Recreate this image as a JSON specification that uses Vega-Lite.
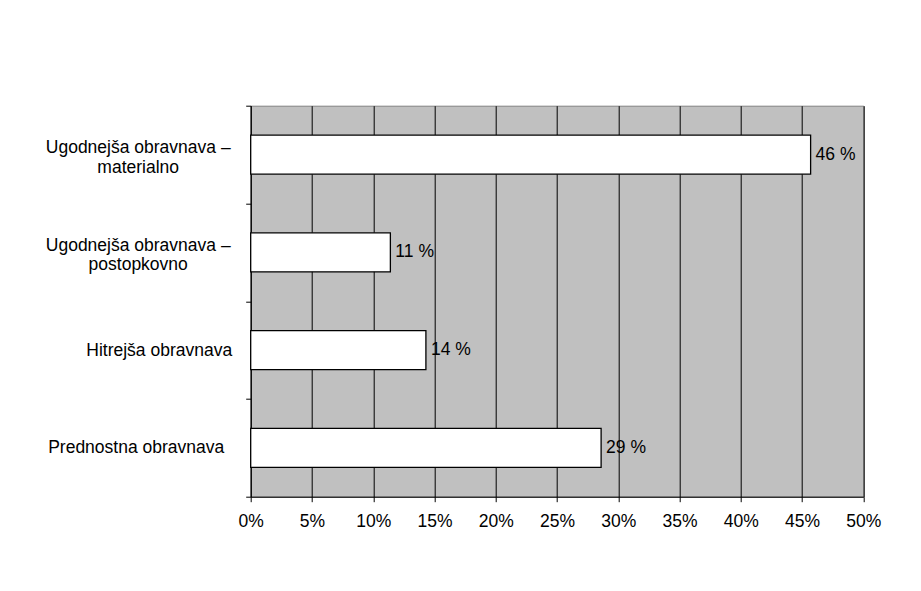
{
  "$schema": "https://vega.github.io/schema/vega-lite/v6.json",
  "autosize": "none",
  "width": 612.6,
  "height": 391,
  "padding": {"left": 250.7, "top": 105.7, "right": 57.7, "bottom": 94.3},
  "background": "white",
  "config": {
    "font": "Liberation Sans",
    "view": {"fill": "#c0c0c0", "stroke": "#808080", "strokeWidth": 1}
  },
  "data": {
    "values": [
      {"cat": "Ugodnejša obravnava –|materialno", "share": 0.457, "lab": "46 %"},
      {"cat": "Ugodnejša obravnava –|postopkovno", "share": 0.114, "lab": "11 %"},
      {"cat": "Hitrejša obravnava", "share": 0.143, "lab": "14 %"},
      {"cat": "Prednostna obravnava", "share": 0.286, "lab": "29 %"}
    ]
  },
  "encoding": {
    "y": {
      "field": "cat",
      "type": "nominal",
      "sort": null,
      "scale": {"paddingInner": 0, "paddingOuter": 0},
      "axis": {
        "title": null,
        "domain": true,
        "domainColor": "black",
        "domainWidth": 1,
        "tickBand": "extent",
        "tickColor": "black",
        "tickSize": 5,
        "labelExpr": "isValid(datum.value) ? split(datum.value, '|') : ''",
        "labelAlign": "center",
        "labelFontSize": 17.5,
        "labelColor": "black",
        "labelLineHeight": 19.6,
        "labelOffset": {
          "condition": {"test": "isValid(datum.value) && indexof(datum.value, '|') >= 0", "value": -7},
          "value": 0
        },
        "labelPadding": {
          "condition": [
            {"test": "datum.value == 'Hitrejša obravnava'", "value": 87},
            {"test": "datum.value == 'Prednostna obravnava'", "value": 110}
          ],
          "value": 108
        },
        "labelLimit": 400
      }
    }
  },
  "layer": [
    {
      "mark": {"type": "bar", "fill": "white", "stroke": "black", "strokeWidth": 1.3, "height": {"band": 0.4}},
      "encoding": {
        "x": {
          "field": "share",
          "type": "quantitative",
          "scale": {"domain": [0, 0.5], "nice": false},
          "axis": {
            "title": null,
            "values": [0, 0.05, 0.1, 0.15, 0.2, 0.25, 0.3, 0.35, 0.4, 0.45, 0.5],
            "format": ".0%",
            "grid": true,
            "gridColor": "black",
            "gridWidth": 1,
            "gridOpacity": 1,
            "domain": true,
            "domainColor": "black",
            "domainWidth": 1,
            "tickColor": "black",
            "tickSize": 5,
            "labelFontSize": 17.5,
            "labelColor": "black",
            "labelPadding": 11,
            "labelFlush": false
          }
        }
      }
    },
    {
      "mark": {"type": "text", "align": "left", "baseline": "middle", "dx": 5, "fontSize": 17.5, "color": "black"},
      "encoding": {
        "x": {"field": "share", "type": "quantitative"},
        "text": {"field": "lab", "type": "nominal"}
      }
    }
  ]
}
